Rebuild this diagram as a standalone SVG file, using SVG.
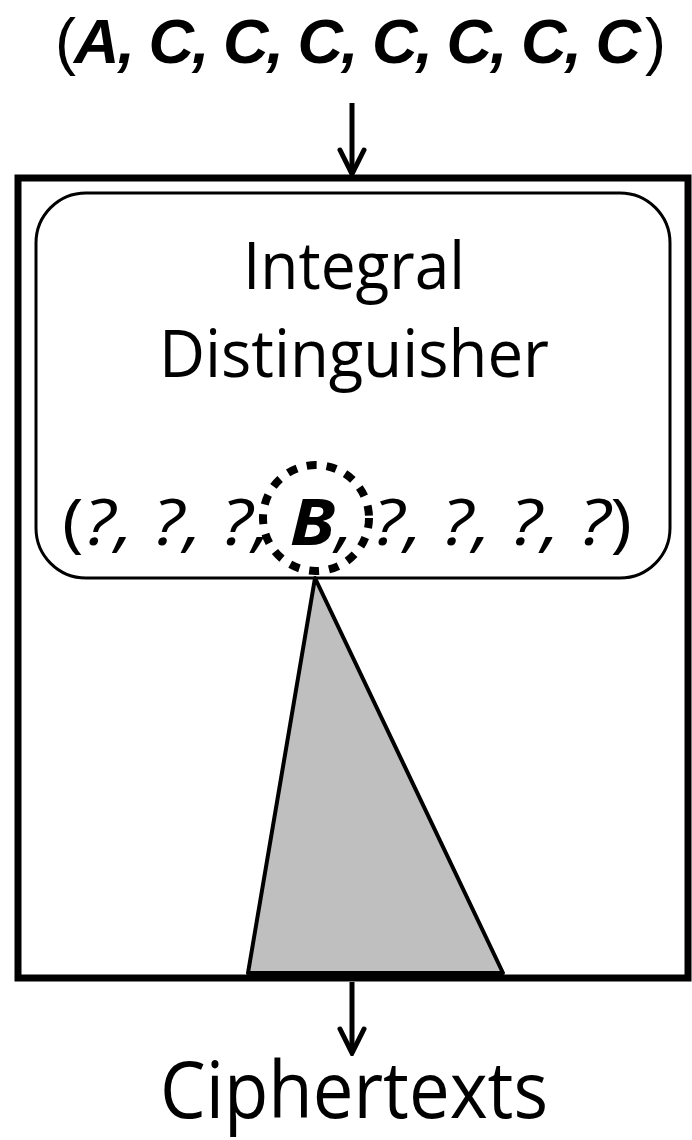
<svg xmlns="http://www.w3.org/2000/svg" width="692" height="1140" viewBox="0 0 692 1140">
<style>
.t{font-family:"Open Sans","Noto Sans","Liberation Sans",sans-serif;fill:#000}
.top{font-family:"Liberation Sans","DejaVu Sans",sans-serif;fill:#000}
.bi{font-weight:bold;font-style:italic}
.i{font-style:italic}
.conn{stroke:#000;stroke-width:5;fill:none}
</style>
<defs>
<marker id="arr" viewBox="0 0 30 30" refX="27" refY="15" markerWidth="30" markerHeight="30" markerUnits="userSpaceOnUse" orient="auto">
<path d="M3 3 L27 15 L3 27" fill="none" stroke="#000" stroke-width="5" stroke-linecap="round" stroke-linejoin="miter"/>
</marker>
</defs>
<g id="input-label">
<text class="top" x="55" y="63" font-size="63" letter-spacing="-2">(<tspan class="bi">A, C, C, C, C, C, C, C</tspan></text>
<text class="top" x="645" y="63" font-size="63">)</text>
</g>
<g id="outer-box">
<rect x="18" y="178" width="670" height="800" fill="#fff" stroke="#000" stroke-width="7"/>
</g>
<g id="distinguisher">
<rect x="36" y="193" width="634" height="385" rx="50" ry="50" fill="#fff" stroke="#000" stroke-width="3"/>
<text class="t" x="354" y="289" font-size="66" text-anchor="middle" textLength="222" lengthAdjust="spacingAndGlyphs">Integral</text>
<text class="t" x="354" y="377" font-size="66" text-anchor="middle" textLength="390" lengthAdjust="spacingAndGlyphs">Distinguisher</text>
<text class="t" x="347" y="545" font-size="64" text-anchor="middle" textLength="570" lengthAdjust="spacingAndGlyphs">(<tspan class="i">?, ?, ?, </tspan><tspan class="bi">B</tspan><tspan class="i">, ?, ?, ?, ?</tspan>)</text>
</g>
<g id="highlight">
<circle cx="316" cy="518" r="53" fill="none" stroke="#000" stroke-width="8" stroke-dasharray="10 10"/>
</g>
<g id="cone">
<polygon points="315,578 248,973 503,973" fill="#bfbfbf" stroke="#000" stroke-width="4" stroke-linejoin="round"/>
</g>
<g id="connectors">
<line class="conn" x1="352" y1="103" x2="352" y2="174" marker-end="url(#arr)"/>
<line class="conn" x1="352" y1="982" x2="352" y2="1053" marker-end="url(#arr)"/>
</g>
<g id="output-label">
<text class="t" x="354" y="1118" font-size="78" text-anchor="middle" textLength="388" lengthAdjust="spacingAndGlyphs">Ciphertexts</text>
</g>
</svg>
